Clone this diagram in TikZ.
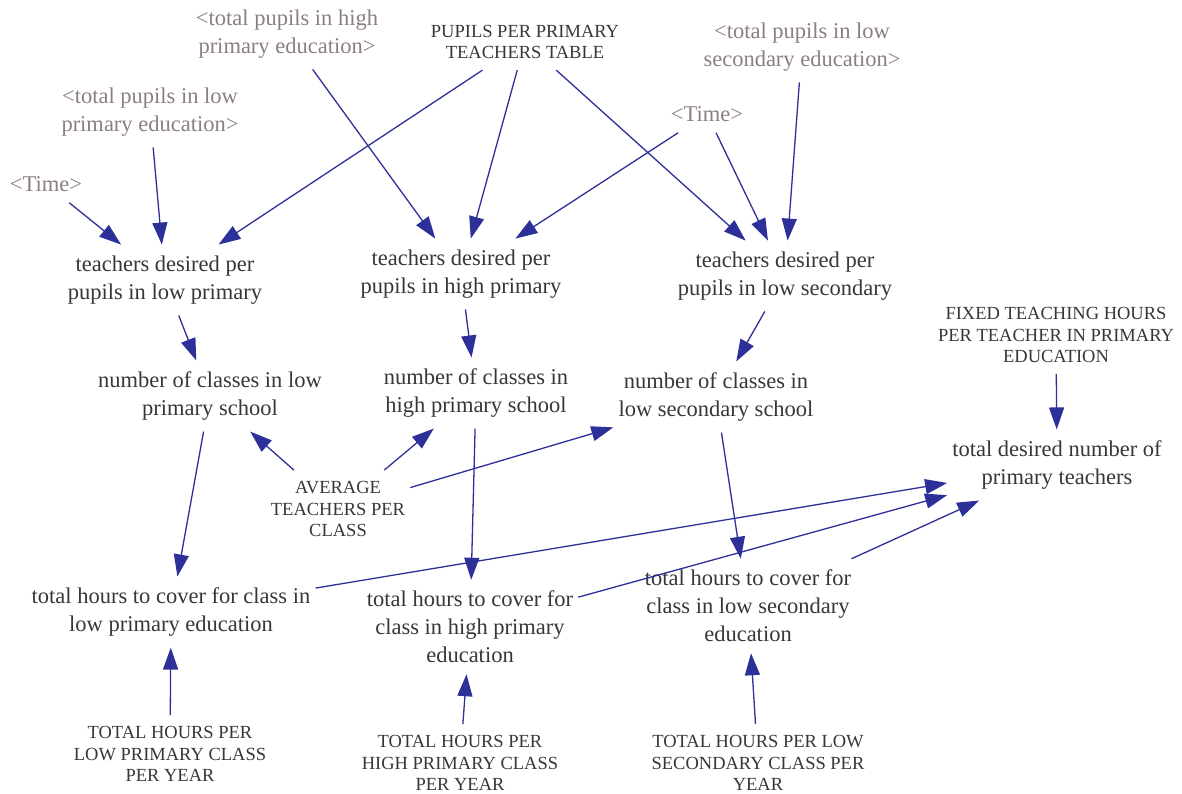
\documentclass[tikz,border=0pt]{standalone}
\usepackage{fontspec}
\setmainfont{Liberation Serif}
\usetikzlibrary{arrows.meta}
\definecolor{vtext}{RGB}{55,55,55}
\definecolor{vshadow}{RGB}{140,126,126}
\definecolor{vlink}{RGB}{45,48,152}
\newcommand{\VarFont}{\fontsize{22.5}{28}\selectfont}
\newcommand{\ConstFont}{\fontsize{18.5}{21.5}\selectfont}

\begin{document}
\begin{tikzpicture}[x=1pt,y=-1pt,
  var/.style={align=center,text=vtext,font=\VarFont,inner xsep=5pt,inner ysep=11pt},
  const/.style={var,font=\ConstFont},
  shadow/.style={var,text=vshadow},
  link/.style={draw=vlink,line width=1.3pt,-{Triangle[length=22pt,width=15pt,fill=vlink]}}]
\useasboundingbox (0,0) rectangle (1182,794);

\node[shadow] (pupLP) at (150,112) {<total pupils in low\\primary education>};
\node[shadow] (time-1) at (46,184) {<Time>};
\node[shadow] (pupHP) at (287,34) {<total pupils in high\\primary education>};
\node[const] (table) at (525,42) {PUPILS PER PRIMARY\\TEACHERS TABLE};
\node[shadow] (pupLS) at (802,47) {<total pupils in low\\secondary education>};
\node[shadow] (time-2) at (707,114) {<Time>};

\node[var] (tdLP) at (165,280) {teachers desired per\\pupils in low primary};
\node[var] (tdHP) at (461,274) {teachers desired per\\pupils in high primary};
\node[var] (tdLS) at (785,276) {teachers desired per\\pupils in low secondary};

\node[var] (clLP) at (210,396) {number of classes in low\\primary school};
\node[var] (clHP) at (476,393) {number of classes in\\high primary school};
\node[var] (clLS) at (716,397) {number of classes in\\low secondary school};

\node[const] (fixed) at (1056,335) {FIXED TEACHING HOURS\\PER TEACHER IN PRIMARY\\EDUCATION};
\node[var] (total) at (1057,465) {total desired number of\\primary teachers};
\node[const] (avg) at (338,509) {AVERAGE\\TEACHERS PER\\CLASS};

\node[var] (hrsLP) at (171,612) {total hours to cover for class in\\low primary education};
\node[var] (hrsHP) at (470,627) {total hours to cover for\\class in high primary\\education};
\node[var] (hrsLS) at (748,606) {total hours to cover for\\class in low secondary\\education};

\node[const] (totLP) at (170,754) {TOTAL HOURS PER\\LOW PRIMARY CLASS\\PER YEAR};
\node[const] (totHP) at (460,763) {TOTAL HOURS PER\\HIGH PRIMARY CLASS\\PER YEAR};
\node[const] (totLS) at (758,763) {TOTAL HOURS PER LOW\\SECONDARY CLASS PER\\YEAR};

\path[link] (time-1) edge (tdLP);
\path[link] (pupLP) edge (tdLP);
\path[link] (table) edge (tdLP);
\path[link] (pupHP) edge (tdHP);
\path[link] (table) edge (tdHP);
\path[link] (time-2) edge (tdHP);
\path[link] (table) edge (tdLS);
\path[link] (time-2) edge (tdLS);
\path[link] (pupLS) edge (tdLS);

\path[link] (tdLP) edge (clLP);
\path[link] (tdHP) edge (clHP);
\path[link] (tdLS) edge (clLS);
\path[link] (avg) edge (clLP);
\path[link] (avg) edge (clHP);
\path[link] (avg) edge (clLS);

\path[link] (clLP) edge (hrsLP);
\path[link] (clHP) edge (hrsHP);
\path[link] (clLS) edge (hrsLS);
\path[link] (totLP) edge (hrsLP);
\path[link] (totHP) edge (hrsHP);
\path[link] (totLS) edge (hrsLS);

\path[link] (fixed) edge (total);
\path[link] (hrsLP) edge (total);
\path[link] (hrsHP) edge (total);
\path[link] (hrsLS) edge (total);
\end{tikzpicture}
\end{document}
